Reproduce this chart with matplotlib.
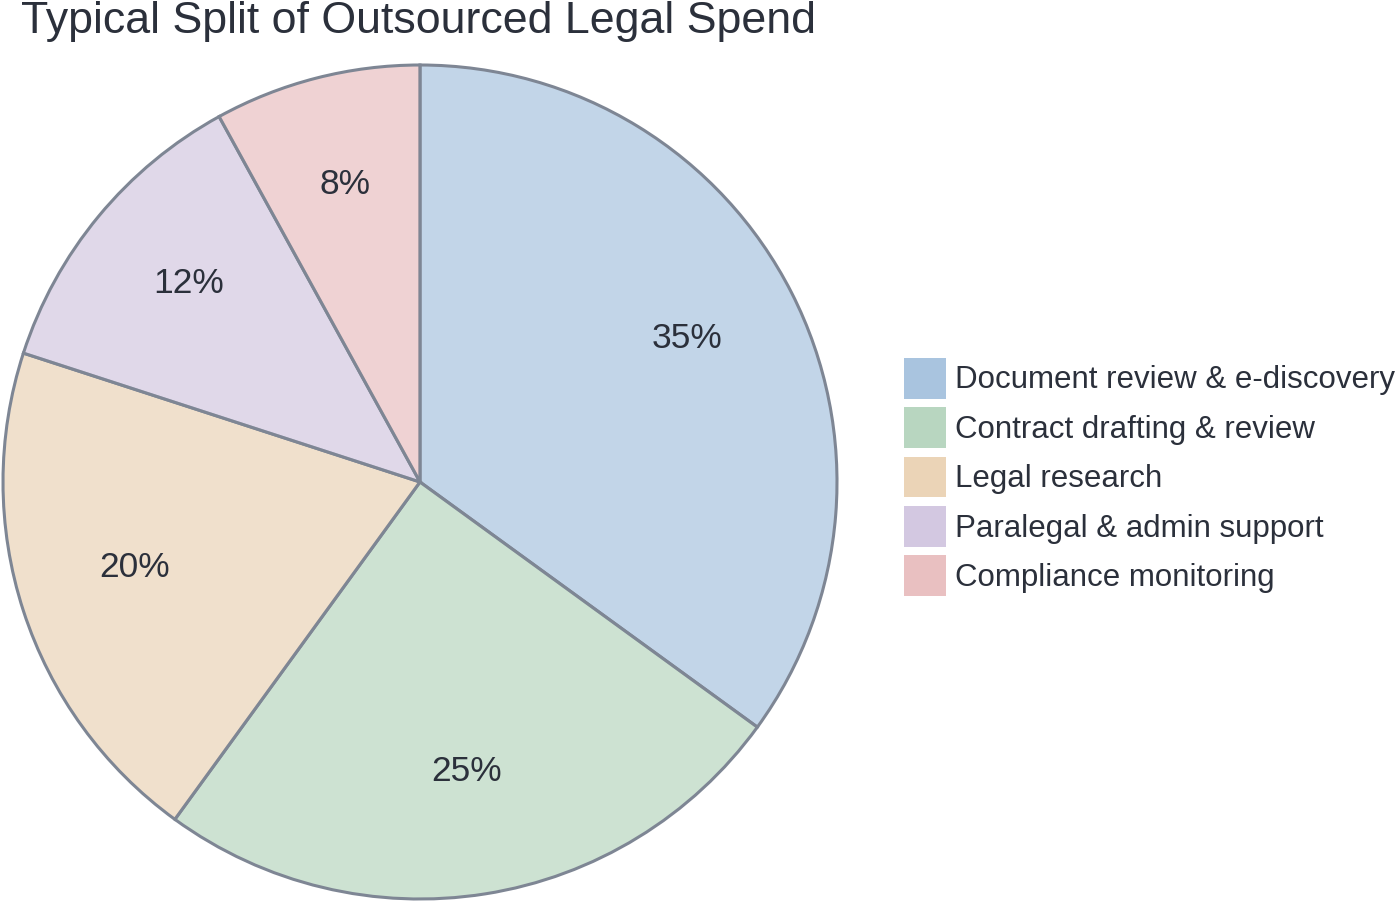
import matplotlib
matplotlib.use("Agg")
import matplotlib.pyplot as plt
from matplotlib.patches import Patch
from matplotlib.colors import to_rgba
from matplotlib.transforms import offset_copy

plt.rcParams['font.family'] = ['Liberation Sans', 'DejaVu Sans']

title = "Typical Split of Outsourced Legal Spend"
categories = ["Document review & e-discovery", "Contract drafting & review",
              "Legal research", "Paralegal & admin support", "Compliance monitoring"]
values = [35, 25, 20, 12, 8]
colors = ["#a9c4df", "#b8d6c0", "#ebd4b7", "#d3c8e1", "#e9c0c1"]

text_color = "#2b303b"
edge_color = "#7e8694"

fig = plt.figure(figsize=(13.96, 9.02), dpi=100)
W, H = 1396, 902
cx, cy, r = 420, 482, 417
ax = fig.add_axes([(cx - r) / W, 1 - (cy + r) / H, 2 * r / W, 2 * r / H])

face = [to_rgba(c, 0.7) for c in colors]
wedges, texts, autotexts = ax.pie(
    values, colors=face, startangle=90, counterclock=False,
    autopct=lambda p: f"{p:.0f}%", pctdistance=0.72,
    wedgeprops=dict(edgecolor=edge_color, linewidth=2.2),
    textprops=dict(color=text_color, fontsize=25.5),
    radius=1.0,
)
for t in autotexts:
    t.set_transform(offset_copy(ax.transData, fig=fig, x=0, y=5.0, units='points'))
ax.set_xlim(-1.0, 1.0)
ax.set_ylim(-1.0, 1.0)
ax.set_aspect('equal')
ax.axis('off')

fig.text(21 / W, 1 - 33 / H, title, fontsize=32.2, color=text_color,
         ha='left', va='baseline')

handles = [Patch(facecolor=c, edgecolor='none') for c in colors]
leg = fig.legend(handles, categories, loc='center left',
                 bbox_to_anchor=(904 / W, 1 - 477 / H),
                 frameon=False, fontsize=22.5, handlelength=1.344,
                 handleheight=1.64, handletextpad=0.29, labelspacing=0.27,
                 borderaxespad=0, borderpad=0)
for t in leg.get_texts():
    t.set_color(text_color)

fig.savefig("out.png", dpi=100)
